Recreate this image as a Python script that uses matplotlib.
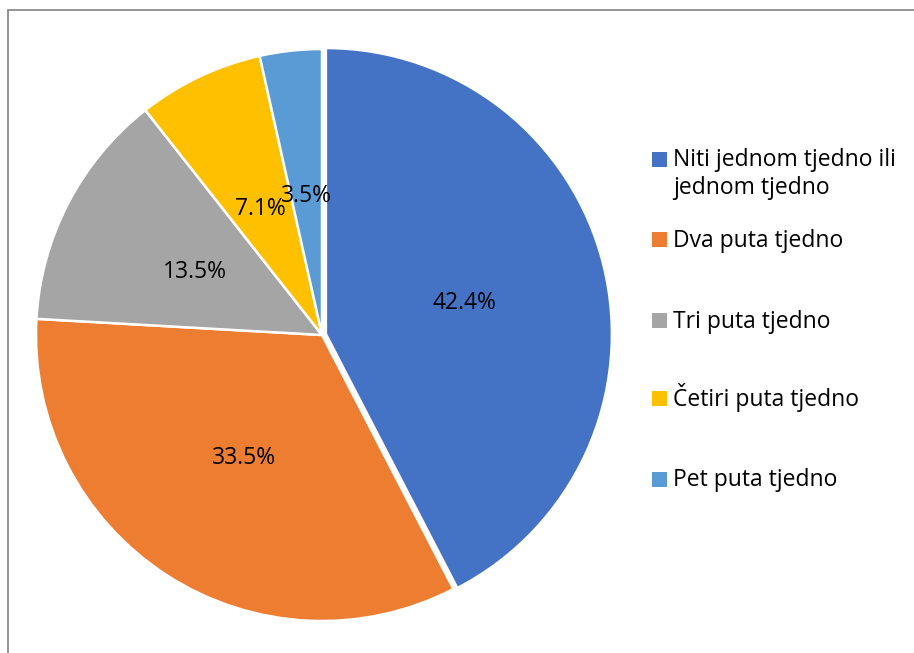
import matplotlib.pyplot as plt
from matplotlib.patches import Rectangle

# data
labels = ['Niti jednom tjedno ili\njednom tjedno', 'Dva puta tjedno', 'Tri puta tjedno',
          'Četiri puta tjedno', 'Pet puta tjedno']
values = [42.4, 33.5, 13.5, 7.1, 3.5]
colors = ['#4472C4', '#ED7D31', '#A5A5A5', '#FFC000', '#5B9BD5']
explode = [0.014, 0, 0, 0, 0]

plt.rcParams['font.family'] = ['Open Sans', 'DejaVu Sans']

W, H = 914, 653
fig = plt.figure(figsize=(W / 100, H / 100), dpi=100)

# outer frame (only top and left edges visible, like the cropped original)
fig.patches.append(Rectangle((8 / W, -0.1), 1.2, 1.1 - 10 / H, transform=fig.transFigure,
                             fill=False, edgecolor='#8c8c8c', linewidth=1.3))

# pie axes: centre (322, 335) px, radius 286 px
L = 1.05
size = 2 * 286 * L
cx, cy = 322, H - 335
ax = fig.add_axes([(cx - size / 2) / W, (cy - size / 2) / H, size / W, size / H])
wedges, texts, autotexts = ax.pie(values, colors=colors, startangle=90, counterclock=False,
                                  explode=explode, autopct='%.1f%%', pctdistance=0.5,
                                  wedgeprops=dict(edgecolor='white', linewidth=1.8),
                                  textprops=dict(fontsize=16.5, color='black'))
for t in autotexts:
    t.set_va('center_baseline')
ax.set_xlim(-L, L)
ax.set_ylim(-L, L)
ax.set_aspect('equal')

# legend drawn by hand so the marker sits on the first line of wrapped text
ys = [159, 239, 320, 398, 479]
for lab, col, y in zip(labels, colors, ys):
    fig.patches.append(Rectangle((652 / W, (H - y - 7.5) / H), 15 / W, 15 / H,
                                 transform=fig.transFigure, facecolor=col, edgecolor='none'))
    for i, line in enumerate(lab.split('\n')):
        fig.text(673 / W, (H - y - 7.5 - 28 * i) / H, line, fontsize=16.5,
                 va='baseline', ha='left')

fig.savefig('out.png', dpi=100)
